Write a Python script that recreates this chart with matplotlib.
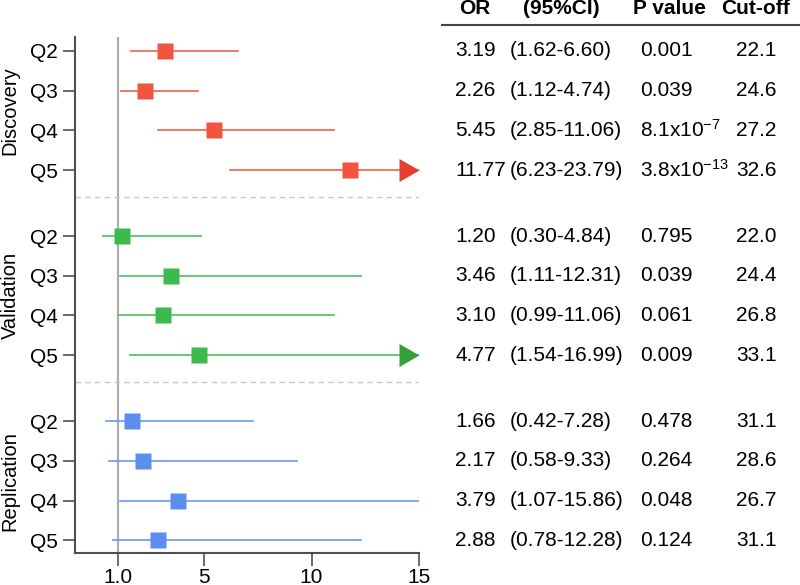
import matplotlib
matplotlib.use("Agg")
import matplotlib.pyplot as plt
import matplotlib.transforms as mtransforms
from matplotlib.path import Path
import numpy as np

plt.rcParams['font.family'] = ['Liberation Sans', 'DejaVu Sans']
plt.rcParams['mathtext.fontset'] = 'custom'
plt.rcParams['mathtext.rm'] = 'Liberation Sans'
plt.rcParams['mathtext.it'] = 'Liberation Sans:italic'
plt.rcParams['mathtext.bf'] = 'Liberation Sans:bold'

# ---------------- data ----------------
groups = ['Discovery', 'Validation', 'Replication']
quartiles = ['Q2', 'Q3', 'Q4', 'Q5']

or_discovery = [3.19, 2.26, 5.45, 11.77]
lo_discovery = [1.62, 1.12, 2.85, 6.23]
hi_discovery = [6.60, 4.74, 11.06, 23.79]
p_discovery = ['0.001', '0.039', r'8.1x10$^{\mathregular{-7}}$', r'3.8x10$^{\mathregular{-13}}$']
cut_discovery = ['22.1', '24.6', '27.2', '32.6']

or_validation = [1.20, 3.46, 3.10, 4.77]
lo_validation = [0.30, 1.11, 0.99, 1.54]
hi_validation = [4.84, 12.31, 11.06, 16.99]
p_validation = ['0.795', '0.039', '0.061', '0.009']
cut_validation = ['22.0', '24.4', '26.8', '33.1']

or_replication = [1.66, 2.17, 3.79, 2.88]
lo_replication = [0.42, 0.58, 1.07, 0.78]
hi_replication = [7.28, 9.33, 15.86, 12.28]
p_replication = ['0.478', '0.264', '0.048', '0.124']
cut_replication = ['31.1', '28.6', '26.7', '31.1']

arrow_discovery = [False, False, False, True]
arrow_validation = [False, False, False, True]
arrow_replication = [False, False, False, False]

xticks = [1, 5, 10, 15]
xticklabels = ['1.0', '5', '10', '15']
headers = ['OR', '(95%CI)', 'P value', 'Cut-off']

# ---------------- styles ----------------
marker_colors = ['#F2553F', '#3DBA4E', '#5A8EF0']
line_colors = ['#F0604C', '#4CBF5A', '#6A98F0']
arrow_colors = ['#E5402E', '#36A03A', '#4A80E8']
group_gap = 4.66

data = [
    (or_discovery, lo_discovery, hi_discovery, p_discovery, cut_discovery, arrow_discovery),
    (or_validation, lo_validation, hi_validation, p_validation, cut_validation, arrow_validation),
    (or_replication, lo_replication, hi_replication, p_replication, cut_replication, arrow_replication),
]

fig = plt.figure(figsize=(8, 5.85), dpi=100)
ax = fig.add_axes([75 / 800, 32 / 585, 344 / 800, 516 / 585])
ax.set_xlim(-1, 15)
ax.set_ylim(12.64, -0.35)

# arrow head marker with tip at origin
tri = Path([(0, 0), (-1, 0.575), (-1, -0.575), (0, 0)],
           [Path.MOVETO, Path.LINETO, Path.LINETO, Path.CLOSEPOLY])

ax.axvline(1, color='#ABABAB', lw=1.5, zorder=1)

fs = 15
blend = mtransforms.blended_transform_factory(fig.transFigure, ax.transData)
col_x = [455 / 800, 510 / 800, 640 / 800, 736 / 800]

yticks, yticklabels = [], []
for g, (ors, los, his, ps, cuts, arrs) in enumerate(data):
    ys = [g * group_gap + i for i in range(len(quartiles))]
    xmax = ax.get_xlim()[1]
    for y, o, lo, hi, p, c, a in zip(ys, ors, los, his, ps, cuts, arrs):
        ax.plot([lo, min(hi, xmax)], [y, y], color=line_colors[g], lw=1.2, zorder=2)
        ax.plot([o], [y], marker='s', ms=11, color=marker_colors[g], mec='none', zorder=3)
        if a:
            ax.plot([xmax], [y], marker=tri, ms=28.8, color=arrow_colors[g], mec='none',
                    zorder=4, clip_on=False)
        ax.text(col_x[0], y, f'{o:.2f}', transform=blend, fontsize=fs, va='center', ha='left')
        ax.text(col_x[1], y, f'({lo:.2f}-{hi:.2f})', transform=blend, fontsize=fs, va='center', ha='left')
        ax.text(col_x[2], y, p, transform=blend, fontsize=fs, va='center', ha='left')
        ax.text(col_x[3], y, c, transform=blend, fontsize=fs, va='center', ha='left')
    yticks += ys
    yticklabels += quartiles
    # group label
    ax.text(10 / 800, np.mean(ys), groups[g], transform=blend, rotation=90,
            fontsize=14.5, va='center', ha='center')
    if g < len(data) - 1:
        ax.axhline(ys[-1] + 0.68, color='#C8C8C8', lw=1.0, ls=(0, (4, 3)), zorder=1)

ax.set_yticks(yticks)
ax.set_yticklabels(yticklabels, fontsize=fs)
ax.set_xticks(xticks)
ax.set_xticklabels(xticklabels, fontsize=fs)

for s in ['top', 'right']:
    ax.spines[s].set_visible(False)
for s in ['left', 'bottom']:
    ax.spines[s].set_linewidth(1.5)
    ax.spines[s].set_color('#505050')
ax.tick_params(axis='both', length=9, width=1.2, color='#505050')
ax.tick_params(axis='y', pad=3.5)
ax.tick_params(axis='x', pad=1.5)

# table header
header_x = [475 / 800, 561 / 800, 669 / 800, 756 / 800]
for hx, h in zip(header_x, headers):
    fig.text(hx, 1 - 9 / 585, h, fontsize=fs, fontweight='bold', ha='center', va='center')
fig.add_artist(plt.Line2D([442 / 800, 1.0], [1 - 25 / 585, 1 - 25 / 585],
                          transform=fig.transFigure, color='#444444', lw=1.5))

fig.savefig('out.png', dpi=100)
